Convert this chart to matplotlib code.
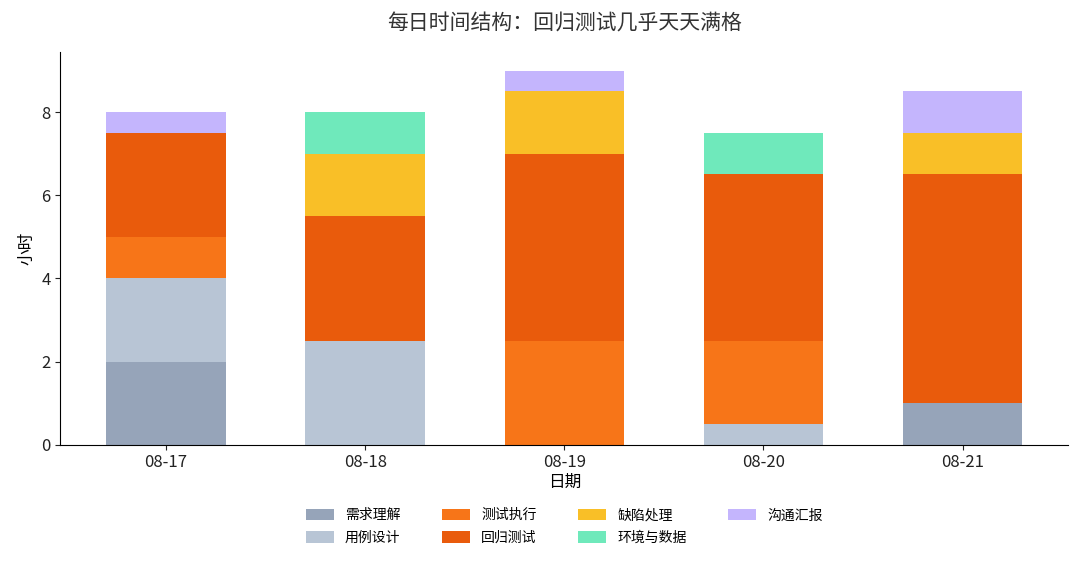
import matplotlib
matplotlib.use("Agg")
import matplotlib.pyplot as plt
import numpy as np

DATES = ["08-17", "08-18", "08-19", "08-20", "08-21"]
CATEGORIES = ["需求理解", "用例设计", "测试执行", "回归测试", "缺陷处理", "环境与数据", "沟通汇报"]
HOURS = {
    "需求理解": [2.0, 0.0, 0.0, 0.0, 1.0],
    "用例设计": [2.0, 2.5, 0.0, 0.5, 0.0],
    "测试执行": [1.0, 0.0, 2.5, 2.0, 0.0],
    "回归测试": [2.5, 3.0, 4.5, 4.0, 5.5],
    "缺陷处理": [0.0, 1.5, 1.5, 0.0, 1.0],
    "环境与数据": [0.0, 1.0, 0.0, 1.0, 0.0],
    "沟通汇报": [0.5, 0.0, 0.5, 0.0, 1.0],
}
COLORS = ["#96a4b9", "#b8c5d5", "#f77518", "#e95b0c", "#f9bf27", "#6fe9bb", "#c4b5fd"]

plt.rcParams["font.family"] = ["Noto Sans CJK SC", "DejaVu Sans"]

fig, ax = plt.subplots(figsize=(10.8, 5.63), dpi=100)
x = np.arange(len(DATES))
bottom = np.zeros(len(DATES))
for name, color in zip(CATEGORIES, COLORS):
    vals = np.array(HOURS[name])
    ax.bar(x, vals, width=0.6, bottom=bottom, color=color, label=name)
    bottom += vals

ax.set_ylim(0, 9.45)
ax.set_xticks(x)
ax.set_xticklabels(DATES)
ax.tick_params(axis="both", labelsize=12, colors="#222222")
ax.set_xlabel("日期", fontsize=12, labelpad=2)
ax.set_ylabel("小时", fontsize=12)
ax.set_title("每日时间结构：回归测试几乎天天满格", fontsize=15, color="#333333", pad=16)
for side in ["top", "right"]:
    ax.spines[side].set_visible(False)

ax.legend(loc="upper center", bbox_to_anchor=(0.5, -0.13), ncol=4, frameon=False,
          fontsize=10, handlelength=2.0, handleheight=0.9, handletextpad=0.8,
          columnspacing=3.0, labelspacing=0.6)

fig.subplots_adjust(left=0.056, right=0.989, top=0.908, bottom=0.21)
fig.savefig("out.png", dpi=100)
